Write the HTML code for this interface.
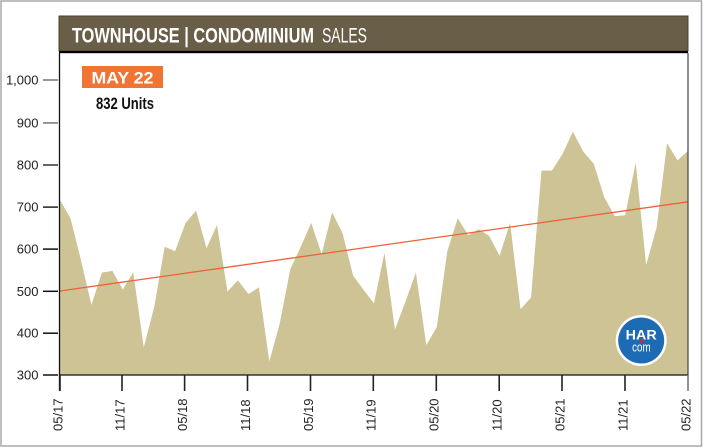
<!DOCTYPE html>
<html>
<head>
<meta charset="utf-8">
<style>
html,body{margin:0;padding:0;background:#fff;}
svg{display:block;}
text{font-family:"Liberation Sans",Arial,sans-serif;}
</style>
</head>
<body>
<svg width="703" height="448" viewBox="0 0 703 448" xmlns="http://www.w3.org/2000/svg">
  <rect x="0" y="0" width="703" height="448" fill="#fff"/>
  <!-- outer border -->
  <rect x="1" y="1" width="700.5" height="445" fill="none" stroke="#a8a8a8" stroke-width="1.5"/>

  <!-- plot background -->
  <rect x="59.5" y="52" width="628.5" height="323" fill="#fff"/>

  <!-- area -->
  <polygon fill="#cec395" points="60,375 60,200.1 70.47,218.2 80.93,260.0 91.4,305.0 101.87,272.6 112.33,270.9 122.8,289.5 133.27,272.2 143.73,347.2 154.2,307.1 164.67,246.9 175.13,251.1 185.6,222.9 196.07,210.6 206.53,248.1 217,225.0 227.47,291.6 237.93,280.2 248.4,294.1 258.87,287.3 269.33,361.5 279.8,323.2 290.27,269.2 300.73,246.9 311.2,222.9 321.67,254.0 332.13,212.3 342.6,233.4 353.07,275.5 363.53,289.9 374,303.4 384.47,252.8 394.93,329.5 405.4,301.7 415.87,272.6 426.33,345.1 436.8,327.0 447.27,251.5 457.73,218.2 468.2,235.1 478.67,229.2 489.13,235.9 499.6,255.7 510.07,222.9 520.53,309.3 531,297.5 541.47,170.6 551.93,170.6 562.4,154.2 572.87,131.8 583.33,151.6 593.8,163.9 604.27,197.2 614.73,216.1 625.2,215.3 635.67,162.6 646.13,265.0 656.6,227.5 667.07,143.2 677.53,160.5 688,150.8 688,375"/>

  <!-- trend line -->
  <line x1="60" y1="291" x2="688" y2="201.8" stroke="#f0603a" stroke-width="1.3"/>

  <!-- header -->
  <rect x="59" y="16" width="629" height="35" fill="#695e47" stroke="#4a4232" stroke-width="1"/>
  <rect x="59" y="51" width="629" height="2.2" fill="#000"/>
  <text x="72" y="42.5" font-size="21.5" font-weight="bold" fill="#fff" textLength="242" lengthAdjust="spacingAndGlyphs">TOWNHOUSE | CONDOMINIUM</text>
  <text x="322" y="42.5" font-size="21.5" fill="#fff" textLength="45" lengthAdjust="spacingAndGlyphs">SALES</text>

  <!-- right frame line -->
  <line x1="688" y1="53" x2="688" y2="375" stroke="#444" stroke-width="1.2"/>

  <!-- axes -->
  <line x1="59.5" y1="53" x2="59.5" y2="391" stroke="#111" stroke-width="1.3"/>
  <line x1="59" y1="375" x2="688.5" y2="375" stroke="#111" stroke-width="1.3"/>

  <!-- y ticks -->
  <g stroke-width="1.5">
    <line x1="43" y1="80" x2="58" y2="80" stroke="#777"/>
    <line x1="43" y1="122.9" x2="58" y2="122.9" stroke="#777"/>
    <line x1="43" y1="165" x2="58" y2="165" stroke="#333"/>
    <line x1="43" y1="207.1" x2="58" y2="207.1" stroke="#222"/>
    <line x1="43" y1="249.1" x2="58" y2="249.1" stroke="#111"/>
    <line x1="43" y1="291.3" x2="58" y2="291.3" stroke="#111"/>
    <line x1="43" y1="333.2" x2="58" y2="333.2" stroke="#111"/>
    <line x1="43" y1="375" x2="58" y2="375" stroke="#111"/>
  </g>
  <g font-size="13" fill="#222" text-anchor="end">
    <text x="38.5" y="84.6">1,000</text>
    <text x="38.5" y="127.4">900</text>
    <text x="38.5" y="169.5">800</text>
    <text x="38.5" y="211.6">700</text>
    <text x="38.5" y="253.6">600</text>
    <text x="38.5" y="295.8">500</text>
    <text x="38.5" y="337.7">400</text>
    <text x="38.5" y="379.5">300</text>
  </g>

  <!-- x ticks -->
  <g stroke="#222" stroke-width="1.6">
    <line x1="60" y1="375" x2="60" y2="391"/>
    <line x1="122" y1="375" x2="122" y2="391"/>
    <line x1="184.6" y1="375" x2="184.6" y2="391"/>
    <line x1="247.5" y1="375" x2="247.5" y2="391"/>
    <line x1="310.5" y1="375" x2="310.5" y2="391"/>
    <line x1="373.3" y1="375" x2="373.3" y2="391"/>
    <line x1="436.3" y1="375" x2="436.3" y2="391"/>
    <line x1="499.2" y1="375" x2="499.2" y2="391"/>
    <line x1="562" y1="375" x2="562" y2="391"/>
    <line x1="625" y1="375" x2="625" y2="391"/>
    <line x1="688" y1="375" x2="688" y2="391" stroke="#777"/>
  </g>
  <g font-size="13" fill="#222">
    <text transform="translate(62.3,431) rotate(-90)">05/17</text>
    <text transform="translate(124.3,431) rotate(-90)">11/17</text>
    <text transform="translate(186.9,431) rotate(-90)">05/18</text>
    <text transform="translate(249.8,431) rotate(-90)">11/18</text>
    <text transform="translate(312.8,431) rotate(-90)">05/19</text>
    <text transform="translate(375.6,431) rotate(-90)">11/19</text>
    <text transform="translate(438.6,431) rotate(-90)">05/20</text>
    <text transform="translate(501.5,431) rotate(-90)">11/20</text>
    <text transform="translate(564.3,431) rotate(-90)">05/21</text>
    <text transform="translate(627.3,431) rotate(-90)">11/21</text>
    <text transform="translate(690.3,431) rotate(-90)">05/22</text>
  </g>

  <!-- legend box -->
  <rect x="82" y="66" width="81" height="22" fill="#f07535"/>
  <text x="122.5" y="83.3" font-size="17" font-weight="bold" fill="#fff" text-anchor="middle" textLength="62" lengthAdjust="spacingAndGlyphs">MAY 22</text>
  <text x="96" y="109" font-size="16.5" font-weight="bold" fill="#111" textLength="58" lengthAdjust="spacingAndGlyphs">832 Units</text>

  <!-- HAR logo -->
  <circle cx="641.2" cy="340.5" r="25.5" fill="#fff"/>
  <circle cx="641.2" cy="340.5" r="23" fill="#1e6bb5"/>
  <text x="641.2" y="339.3" font-size="13.5" font-weight="bold" fill="#fff" text-anchor="middle" textLength="31" lengthAdjust="spacingAndGlyphs">HAR</text>
  <circle cx="641.5" cy="341" r="1.8" fill="#e8212b"/>
  <text x="641.4" y="351.5" font-size="13" fill="#fff" text-anchor="middle" textLength="18.5" lengthAdjust="spacingAndGlyphs">com</text>
</svg>
</body>
</html>
